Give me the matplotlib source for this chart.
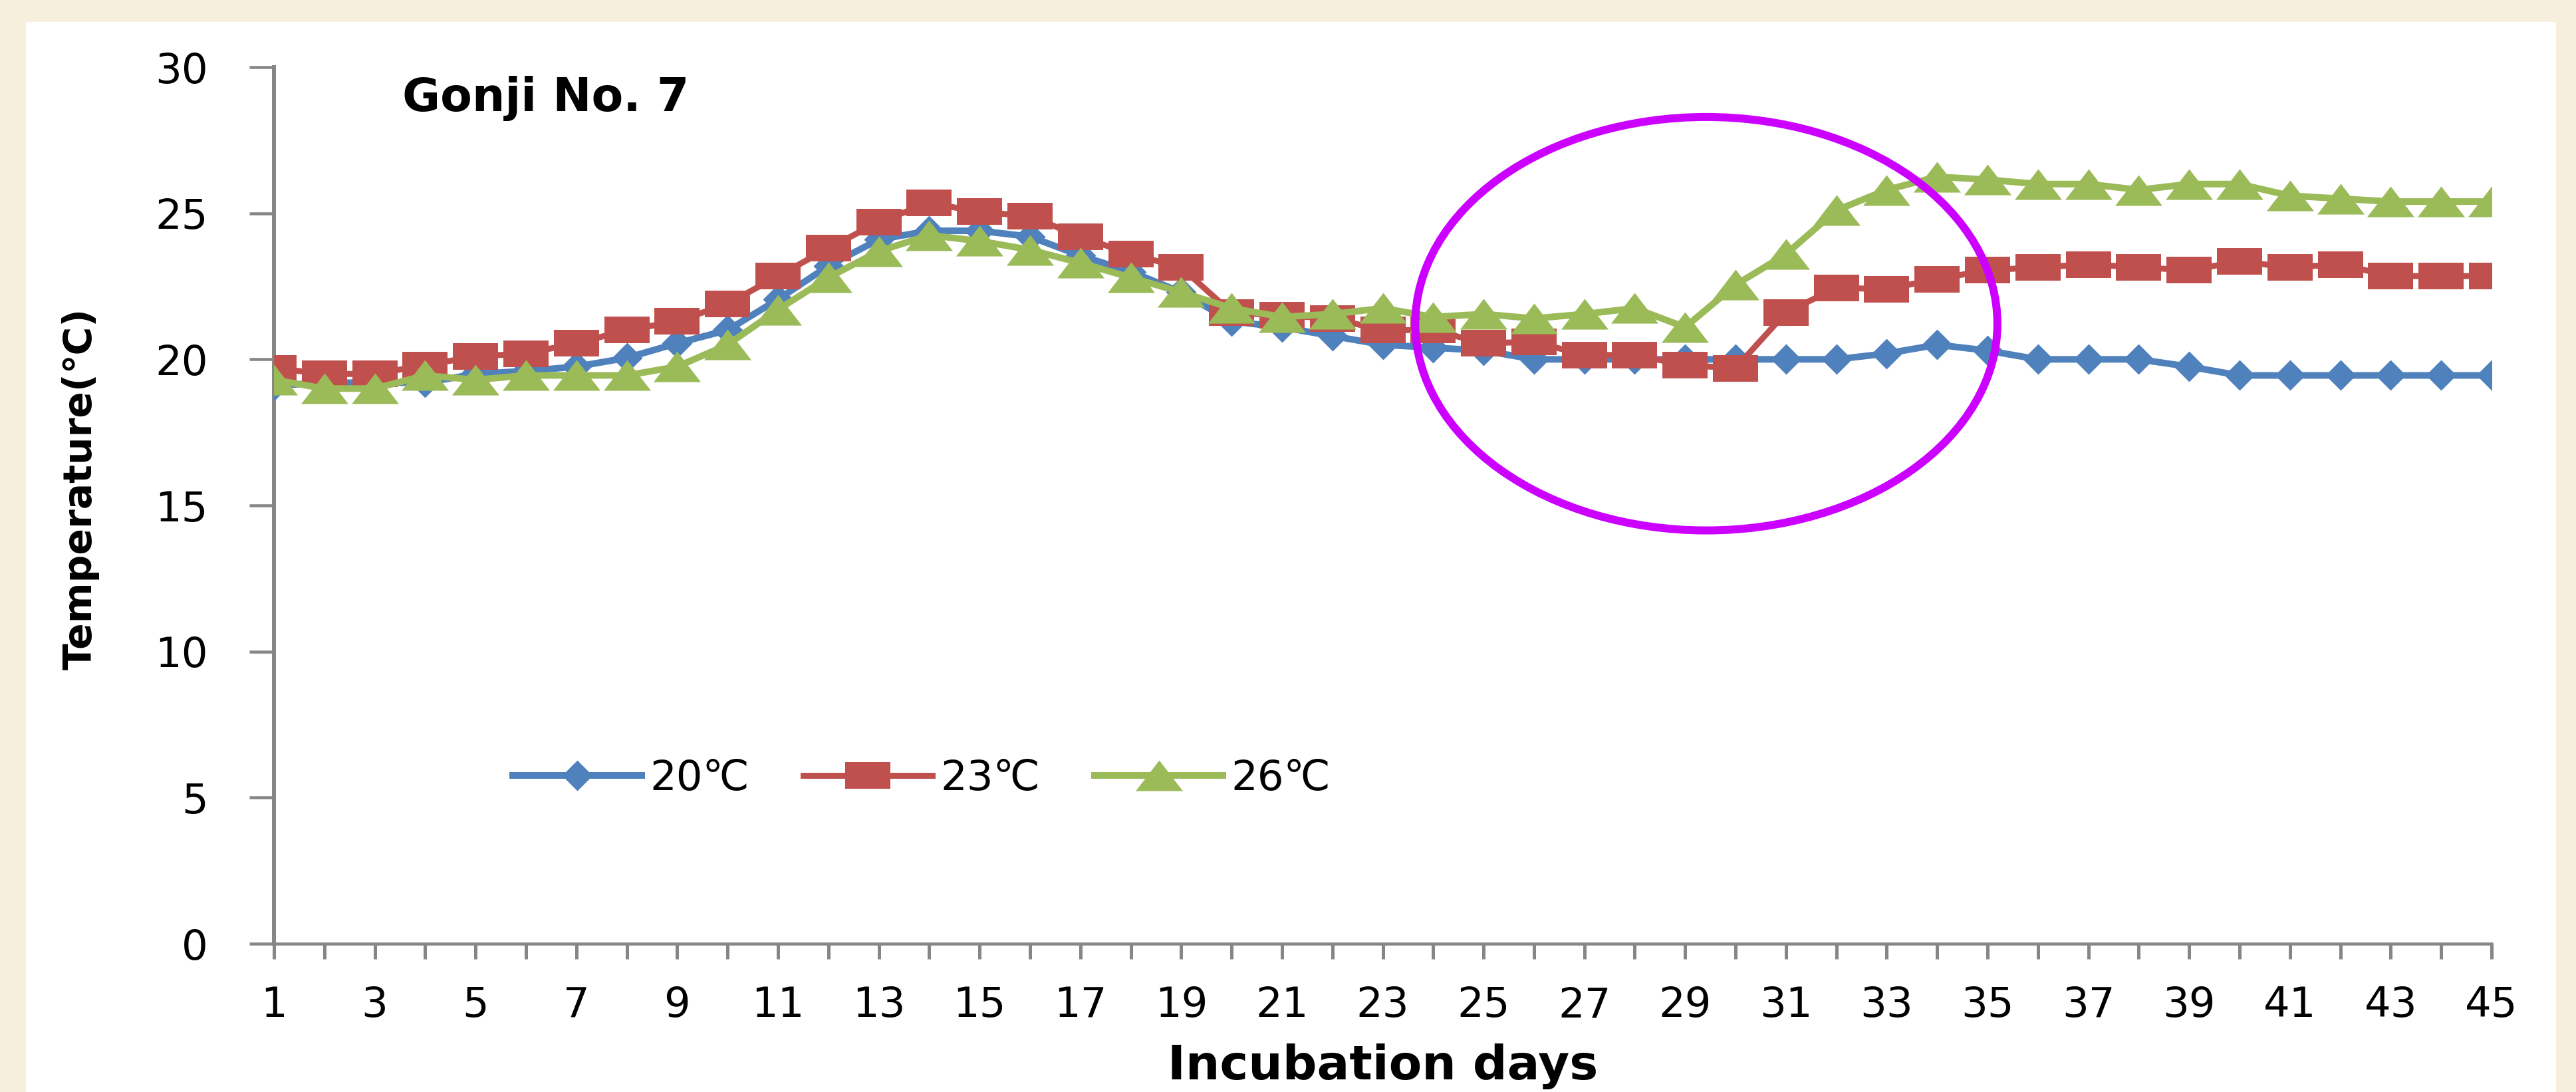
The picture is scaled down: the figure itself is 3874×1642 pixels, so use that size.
import numpy as np
import matplotlib
matplotlib.use('Agg')
import matplotlib.pyplot as plt
from matplotlib.patches import Ellipse, Rectangle

# incubation temperature per day
days = np.arange(1, 46)
temp_20 = [19.1, 19.2, 19.2, 19.2, 19.5, 19.6, 19.75, 20.05, 20.55, 21.0,
           22.05, 23.2, 24.1, 24.4, 24.4, 24.2, 23.55, 23.0, 22.3, 21.3,
           21.1, 20.8, 20.5, 20.4, 20.3, 20.0, 20.0, 20.0, 20.0, 20.0,
           20.0, 20.0, 20.2, 20.5, 20.3, 20.0, 20.0, 20.0, 19.75, 19.45,
           19.45, 19.45, 19.45, 19.45, 19.45]
temp_23 = [19.7, 19.5, 19.5, 19.8, 20.1, 20.2, 20.55, 21.0, 21.3, 21.9,
           22.85, 23.8, 24.7, 25.35, 25.05, 24.9, 24.2, 23.6, 23.15, 21.6,
           21.5, 21.4, 21.0, 21.0, 20.55, 20.6, 20.15, 20.15, 19.8, 19.7,
           21.6, 22.45, 22.4, 22.75, 23.05, 23.15, 23.25, 23.15, 23.05, 23.35,
           23.15, 23.25, 22.85, 22.85, 22.85]
temp_26 = [19.3, 19.0, 19.0, 19.45, 19.3, 19.45, 19.45, 19.45, 19.75, 20.5,
           21.7, 22.8, 23.7, 24.25, 24.05, 23.75, 23.3, 22.8, 22.3, 21.75,
           21.45, 21.55, 21.75, 21.45, 21.55, 21.4, 21.55, 21.75, 21.1, 22.55,
           23.6, 25.1, 25.8, 26.25, 26.15, 26.0, 26.0, 25.8, 26.0, 26.0,
           25.6, 25.5, 25.4, 25.4, 25.4]
series_labels = ['20℃', '23℃', '26℃']
yticks = [0, 5, 10, 15, 20, 25, 30]
xtick_labels = [str(d) if d % 2 else '' for d in days]

# highlighted region (data coords)
ring_center = (29.42, 21.22)
ring_w, ring_h = 11.55, 14.15

W, H, DPI = 3874, 1642, 100


def pt(pixels):
    return pixels * 72.0 / DPI


BLUE, RED, GREEN = '#4F81BD', '#C0504D', '#9BBB59'
GREY = '#868686'

# Excel markers here are stretched sideways, so use custom shapes
diamond = [(0, 1), (1, 0), (0, -1), (-1, 0), (0, 1)]
square = [(-1, -0.6), (1, -0.6), (1, 0.6), (-1, 0.6), (-1, -0.6)]
triangle = [(-1, -0.65), (1, -0.65), (0, 0.65), (-1, -0.65)]

plt.rcParams['font.family'] = ['DejaVu Sans', 'Noto Sans CJK SC']

fig = plt.figure(figsize=(W / DPI, H / DPI), dpi=DPI, facecolor='#F6EFDE')
fig.add_artist(Rectangle((39 / W, 0), (3844 - 39) / W, (H - 33) / H,
                         transform=fig.transFigure, facecolor='white',
                         edgecolor='none', zorder=0))

ax = fig.add_axes([412 / W, 1 - 1419 / H, (3747 - 412) / W, (1419 - 101) / H])
ax.set_facecolor('none')

ax.plot(days, temp_20, color=BLUE, lw=pt(10), marker=diamond, ms=pt(46),
        mew=0, label=series_labels[0], zorder=3)
ax.plot(days, temp_23, color=RED, lw=pt(9), marker=square, ms=pt(68),
        mew=0, label=series_labels[1], zorder=4)
ax.plot(days, temp_26, color=GREEN, lw=pt(10), marker=triangle, ms=pt(71),
        mew=0, label=series_labels[2], zorder=5)

ax.add_patch(Ellipse(ring_center, ring_w, ring_h, fill=False,
                     edgecolor='#CC00FF', lw=pt(12), zorder=10, clip_on=False))

ax.set_xlim(1, 45)
ax.set_ylim(0, 30)
for s in ['top', 'right']:
    ax.spines[s].set_visible(False)
ax.spines['left'].set_color(GREY)
ax.spines['left'].set_linewidth(pt(6))
ax.spines['bottom'].set_color(GREY)
ax.spines['bottom'].set_linewidth(pt(4.5))

ax.set_yticks(yticks)
ax.set_xticks(days)
ax.set_xticklabels(xtick_labels)
ax.tick_params(axis='y', direction='out', length=pt(37), width=pt(4.5),
               color=GREY, pad=pt(62), labelsize=45)
ax.tick_params(axis='x', direction='out', length=pt(23), width=pt(5),
               color=GREY, pad=pt(40), labelsize=45)

ax.text(0.0579, 0.950, 'Gonji No. 7', transform=ax.transAxes, fontsize=50,
        fontweight='bold', ha='left', va='baseline')

fig.text(2080 / W, 1 - 1623 / H, 'Incubation days', fontsize=52,
         fontweight='bold', ha='center', va='baseline')
fig.text(121 / W, 1 - 735 / H, 'Temperature(℃)', fontsize=42,
         fontweight='bold', rotation=90, ha='center', va='center')

ax.legend(loc='center left', bbox_to_anchor=(771 / W, 1 - 1171 / H),
          bbox_transform=fig.transFigure, ncol=3, frameon=False,
          fontsize=45, handlelength=3.1, handletextpad=0.2,
          columnspacing=1.3, borderpad=0, borderaxespad=0, numpoints=1)

fig.savefig('out.png', dpi=DPI, facecolor=fig.get_facecolor())
